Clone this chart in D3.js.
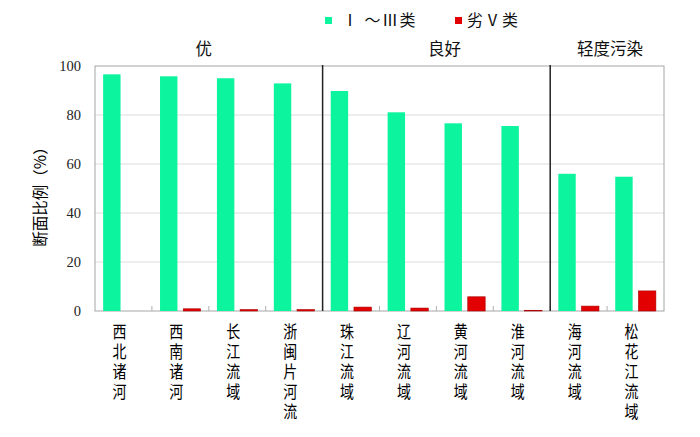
<!DOCTYPE html>
<html>
<head>
<meta charset="utf-8">
<script src="https://cdn.jsdelivr.net/npm/d3@7"></script>
<style>
  body { margin: 0; background: #fff; }
  text { font-family: "Noto Sans CJK SC", "Noto Sans", sans-serif; fill: #111; }
  .num { font-family: "Liberation Serif", "DejaVu Serif", serif; }
</style>
</head>
<body>
<svg id="chart" width="700" height="437"></svg>
<script>
var basins = ["西北诸河", "西南诸河", "长江流域", "浙闽片河流", "珠江流域",
              "辽河流域", "黄河流域", "淮河流域", "海河流域", "松花江流域"];
var series = ["Ⅰ ～Ⅲ类", "劣Ⅴ类"];
var goodShare = [96.6, 95.8, 95.0, 92.9, 89.8, 81.1, 76.6, 75.5, 56.0, 54.8];
var badShare = [0, 0.9, 0.6, 0.6, 1.6, 1.2, 5.8, 0.3, 2.0, 8.2];
var groups = ["优", "良好", "轻度污染"];
var groupStart = [0, 4, 8];
var groupEnd = [3, 7, 9];
var yTicks = [0, 20, 40, 60, 80, 100];
var colors = ["#0cf49e", "#e30000"];

var svg = d3.select("#chart");
var margin = { left: 95, right: 36, top: 66, bottom: 126 };
var width = 700 - margin.left - margin.right,
    height = 437 - margin.top - margin.bottom;

var g = svg.append("g")
    .attr("transform", "translate(" + margin.left + "," + margin.top + ")");

var x0 = d3.scaleBand().domain(basins).range([0, width]);
var x1 = d3.scaleBand().domain(series).range([0, x0.bandwidth()])
    .paddingInner(0.25).paddingOuter(0.35);
var y = d3.scaleLinear().domain([0, 100]).range([height, 0]);

// gridlines
g.selectAll(".grid")
    .data(yTicks.filter(d => d > 0 && d < 100))
  .enter().append("line")
    .attr("x1", 0).attr("x2", width)
    .attr("y1", d => y(d)).attr("y2", d => y(d))
    .attr("stroke", "#dcdcdc");

// frame
g.append("rect")
    .attr("width", width).attr("height", height)
    .attr("fill", "none").attr("stroke", "#a6a6a6");

// bars
var rows = basins.map((b, i) => ({ basin: b, values: [goodShare[i], badShare[i]] }));
var cat = g.selectAll(".cat").data(rows).enter().append("g")
    .attr("transform", d => "translate(" + x0(d.basin) + ",0)");
cat.selectAll("rect")
    .data(d => d.values.map((v, k) => ({ key: series[k], value: v, k: k })))
  .enter().append("rect")
    .attr("x", d => x1(d.key))
    .attr("width", x1.bandwidth())
    .attr("y", d => y(d.value))
    .attr("height", d => height - y(d.value))
    .attr("fill", d => colors[d.k])
    .attr("stroke", d => d.k ? "#a80000" : "none")
    .attr("stroke-width", 0.6);

// small inner ticks on category boundaries
g.selectAll(".xt")
    .data(basins.slice(1))
  .enter().append("line")
    .attr("x1", d => x0(d)).attr("x2", d => x0(d))
    .attr("y1", height - 5).attr("y2", height)
    .attr("stroke", "#b0b0b0");

// group dividers
g.selectAll(".div")
    .data(groupStart.slice(1))
  .enter().append("line")
    .attr("x1", d => x0(basins[d])).attr("x2", d => x0(basins[d]))
    .attr("y1", -1).attr("y2", height)
    .attr("stroke", "#222").attr("stroke-width", 1.5);

// group labels
g.selectAll(".grp")
    .data(groups)
  .enter().append("text")
    .attr("x", (d, i) => (x0(basins[groupStart[i]]) + x0(basins[groupEnd[i]]) + x0.bandwidth()) / 2 + [-5, 8, 3][i])
    .attr("y", -11)
    .attr("text-anchor", "middle")
    .attr("font-size", 16.5)
    .text(d => d);

// y axis labels
var yAxis = d3.axisLeft(y).tickValues(yTicks).tickSize(0).tickPadding(14);
var ya = g.append("g").call(yAxis);
ya.select(".domain").remove();
ya.selectAll("text")
    .attr("class", "num")
    .attr("font-size", 14.5)
    .style("fill", "#222");

// y axis title
svg.append("text")
    .attr("transform", "translate(46,193) rotate(-90)")
    .attr("text-anchor", "middle")
    .attr("font-size", 15.5)
    .style("fill", "#000")
    .text("断面比例（%）");

// vertical category labels
g.selectAll(".lab").data(basins).enter().append("text")
    .attr("transform", d => "translate(" + (x0(d) + x0.bandwidth() / 2 - 4) + "," + (height + 12) + ") scale(0.8,1)")
    .attr("writing-mode", "tb")
    .style("writing-mode", "vertical-rl")
    .style("letter-spacing", "2.5px")
    .style("fill", "#000")
    .attr("font-size", 17.5)
    .text(d => d);

// legend
var legX = [325, 455];
var leg = svg.selectAll(".leg").data(series).enter().append("g")
    .attr("transform", (d, i) => "translate(" + legX[i] + ",17)");
leg.append("rect")
    .attr("width", 7).attr("height", 7)
    .attr("fill", (d, i) => colors[i]);
leg.append("text")
    .attr("x", (d, i) => i ? 12 : 17)
    .attr("y", 9)
    .attr("font-size", 16)
    .style("letter-spacing", "1.5px")
    .text(d => d);
</script>
</body>
</html>
